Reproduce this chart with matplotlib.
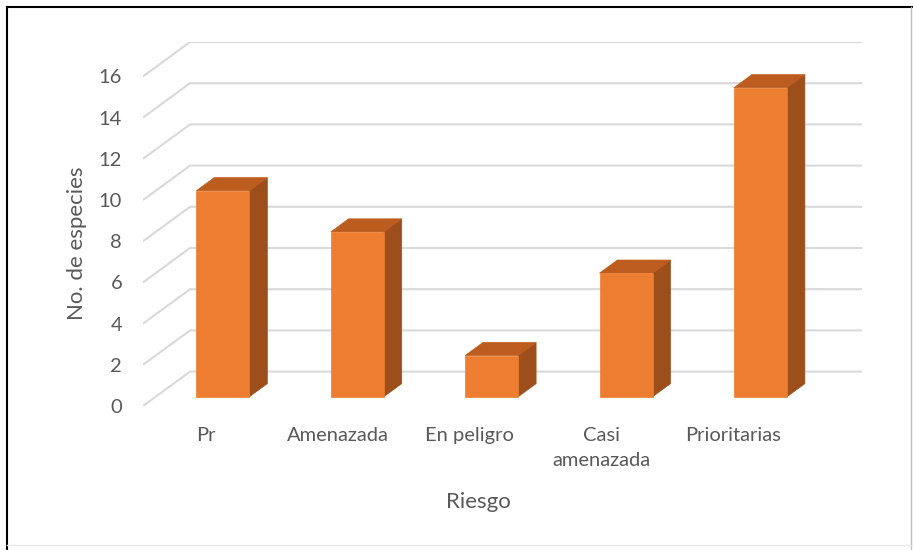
import matplotlib
matplotlib.use("Agg")
import matplotlib.pyplot as plt
from matplotlib.patches import Polygon
from matplotlib.lines import Line2D

CATEGORIES = ["Pr", "Amenazada", "En peligro", "Casi\namenazada", "Prioritarias"]
VALUES = [10, 8, 2, 6, 15]
Y_TICKS = [0, 2, 4, 6, 8, 10, 12, 14, 16]

# pseudo-3D geometry (depth offset of the back wall, in data units)
DX = 0.35      # categories
DY = 1.67      # value units
BAR_W = 0.395
Z_FRONT = 0.27
Z_BACK = 0.65
# category labels sit on a slightly compressed front axis
LABEL_SCALE = 0.98
LABEL_SHIFT = -0.03

FRONT = "#ED7D31"
SIDE = "#9C4F1B"
TOP = "#BD5C1F"
GRID = "#D9D9D9"
TEXT = "#595959"

plt.rcParams["font.family"] = ["Lato", "DejaVu Sans"]


def proj(x, y, z):
    return (x + z * DX, y + z * DY)


fig = plt.figure(figsize=(9.13, 5.5), dpi=100)
ax = fig.add_axes([143 / 913, 1 - 406 / 550, 719 / 913, 364 / 550])
n = len(CATEGORIES)
x_lo, x_hi = -0.5, n - 0.5
ax.set_xlim(x_lo, x_hi + DX)
ax.set_ylim(0, Y_TICKS[-1] + DY)
for s in ax.spines.values():
    s.set_visible(False)

# floor-to-wall gridlines
for g in Y_TICKS:
    a = proj(x_lo, g, 0)
    b = proj(x_lo, g, 1)
    c = proj(x_hi, g, 1)
    ax.plot([a[0], b[0], c[0]], [a[1], b[1], c[1]], color=GRID, lw=1.5,
            zorder=1, solid_capstyle="butt")

# columns
for i, v in enumerate(VALUES):
    x0, x1 = i - BAR_W / 2, i + BAR_W / 2
    front = [proj(x0, 0, Z_FRONT), proj(x1, 0, Z_FRONT),
             proj(x1, v, Z_FRONT), proj(x0, v, Z_FRONT)]
    side = [proj(x1, 0, Z_FRONT), proj(x1, 0, Z_BACK),
            proj(x1, v, Z_BACK), proj(x1, v, Z_FRONT)]
    top = [proj(x0, v, Z_FRONT), proj(x1, v, Z_FRONT),
           proj(x1, v, Z_BACK), proj(x0, v, Z_BACK)]
    for pts, col in ((side, SIDE), (top, TOP), (front, FRONT)):
        ax.add_patch(Polygon(pts, closed=True, facecolor=col,
                             edgecolor=col, lw=0.5, zorder=3))

ax.set_xticks([LABEL_SHIFT + LABEL_SCALE * i for i in range(n)])
ax.set_xticklabels(CATEGORIES, fontsize=14.5, color=TEXT, linespacing=1.55)
ax.set_yticks(Y_TICKS)
ax.set_yticklabels([str(t) for t in Y_TICKS], fontsize=14.5, color=TEXT)
ax.tick_params(axis="x", length=0, pad=15)
ax.tick_params(axis="y", length=0, pad=15)

fig.text(77 / 913, 1 - 243 / 550, "No. de especies", rotation=90,
         ha="center", va="center", fontsize=16, color=TEXT)
fig.text(478 / 913, 1 - 502 / 550, "Riesgo", ha="center", va="center",
         fontsize=16, color=TEXT)

# outer frame
W, H = 913, 550
fig.add_artist(Line2D([7 / W, 7 / W], [0, 1 - 7 / H], color="black", lw=1.5,
                      transform=fig.transFigure))
fig.add_artist(Line2D([7 / W, 1], [1 - 7 / H, 1 - 7 / H], color="black", lw=1.5,
                      transform=fig.transFigure))
fig.add_artist(Line2D([911 / W, 911 / W], [0, 1 - 7 / H], color="#BFBFBF", lw=1,
                      transform=fig.transFigure))
fig.add_artist(Line2D([7 / W, 911 / W], [1 - 545 / H, 1 - 545 / H], color="#E6E6E6",
                      lw=1, transform=fig.transFigure))

fig.savefig("out.png", dpi=100)
